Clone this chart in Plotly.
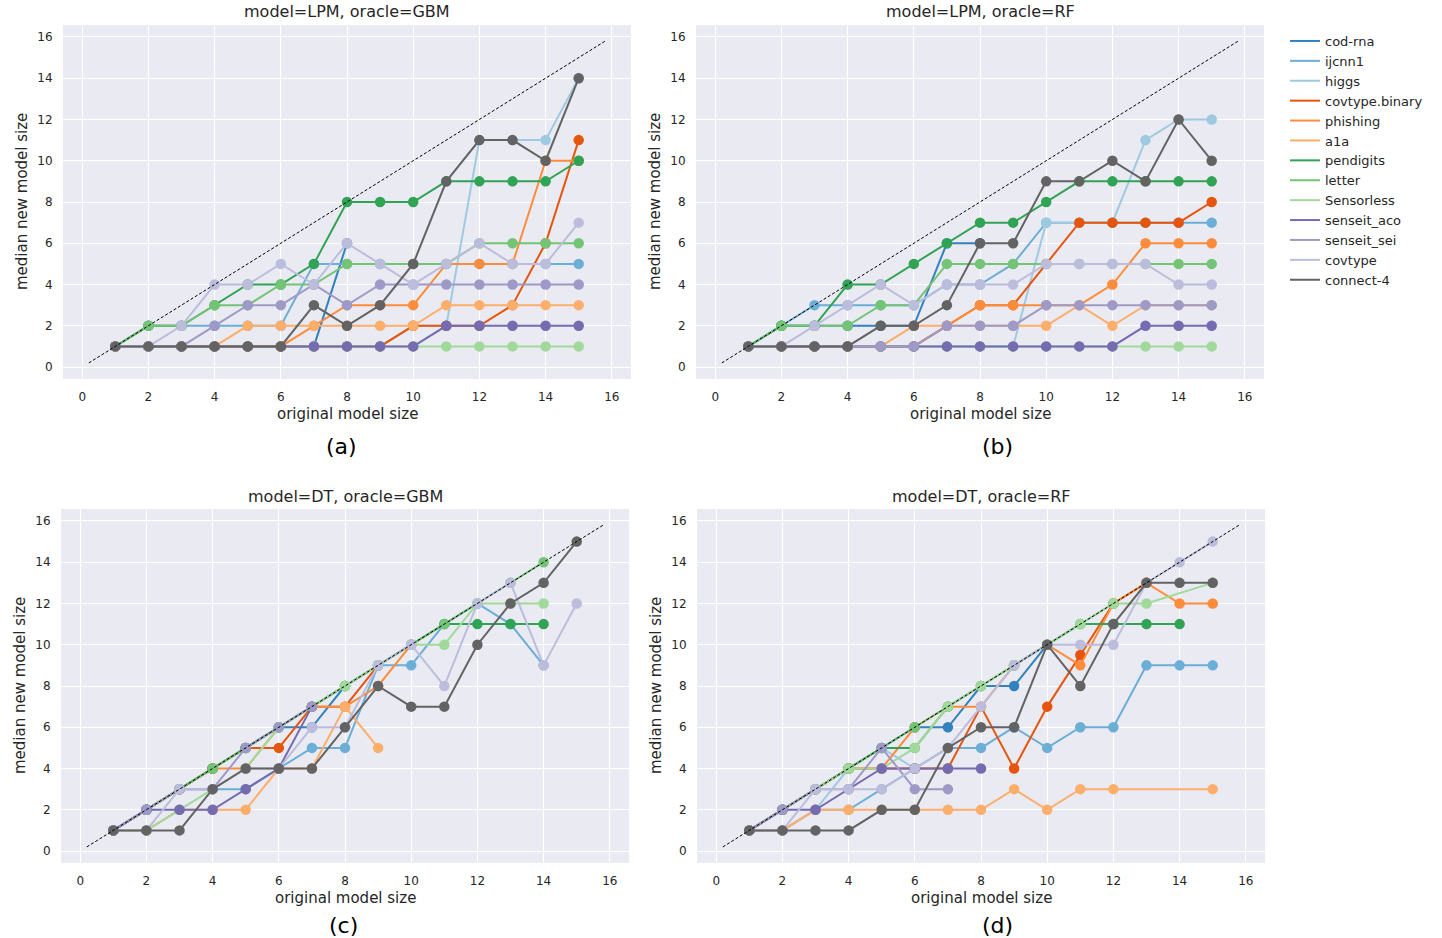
import plotly.graph_objects as go

W, H = 1442, 938

SERIES = ["cod-rna", "ijcnn1", "higgs", "covtype.binary", "phishing", "a1a",
          "pendigits", "letter", "Sensorless", "senseit_aco", "senseit_sei",
          "covtype", "connect-4"]
COLORS = ["#3182bd", "#6baed6", "#9ecae1", "#e6550d", "#fd8d3c", "#fdae6b",
          "#31a354", "#74c476", "#a1d99b", "#756bb1", "#9e9ac8", "#bcbddc", "#636363"]

TICKS = [0, 2, 4, 6, 8, 10, 12, 14, 16]

# ---- (a) model=LPM, oracle=GBM : median new model size for original size 1..n
lpm_gbm = {
    "cod-rna":        [1, 1, 1, 1, 1, 1, 1, 6],
    "ijcnn1":         [1, 2, 2, 2, 2, 2, 5, 5, 5, 5, 5, 5, 5, 5, 5],
    "higgs":          [1, 1, 1, 1, 1, 1, 1, 1, 1, 2, 2, 11, 11, 11, 14],
    "covtype.binary": [1, 1, 1, 1, 1, 1, 1, 1, 1, 2, 2, 2, 3, 6, 11],
    "phishing":       [1, 1, 1, 1, 1, 1, 2, 3, 3, 3, 5, 5, 5, 10, 10],
    "a1a":            [1, 1, 1, 1, 2, 2, 2, 2, 2, 2, 3, 3, 3, 3, 3],
    "pendigits":      [1, 2, 2, 3, 4, 4, 5, 8, 8, 8, 9, 9, 9, 9, 10],
    "letter":         [1, 2, 2, 3, 3, 4, 4, 5, 5, 5, 5, 6, 6, 6, 6],
    "Sensorless":     [1, 1, 1, 1, 1, 1, 1, 1, 1, 1, 1, 1, 1, 1, 1],
    "senseit_aco":    [1, 1, 1, 1, 1, 1, 1, 1, 1, 1, 2, 2, 2, 2, 2],
    "senseit_sei":    [1, 1, 1, 2, 3, 3, 4, 3, 4, 4, 4, 4, 4, 4, 4],
    "covtype":        [1, 1, 2, 4, 4, 5, 4, 6, 5, 4, 5, 6, 5, 5, 7],
    "connect-4":      [1, 1, 1, 1, 1, 1, 3, 2, 3, 5, 9, 11, 11, 10, 14],
}

# ---- (b) model=LPM, oracle=RF
lpm_rf = {
    "cod-rna":        [1, 2, 2, 2, 2, 2, 6, 6],
    "ijcnn1":         [1, 2, 3, 3, 3, 3, 4, 4, 5, 7, 7, 7, 7, 7, 7],
    "higgs":          [1, 1, 1, 1, 1, 1, 1, 1, 1, 7, 7, 7, 11, 12, 12],
    "covtype.binary": [1, 1, 1, 1, 1, 1, 2, 3, 3, 5, 7, 7, 7, 7, 8],
    "phishing":       [1, 1, 1, 1, 1, 1, 2, 3, 3, 3, 3, 4, 6, 6, 6],
    "a1a":            [1, 1, 1, 1, 1, 2, 2, 2, 2, 2, 3, 2, 3, 3, 3],
    "pendigits":      [1, 2, 2, 4, 4, 5, 6, 7, 7, 8, 9, 9, 9, 9, 9],
    "letter":         [1, 2, 2, 2, 3, 3, 5, 5, 5, 5, 5, 5, 5, 5, 5],
    "Sensorless":     [1, 1, 1, 1, 1, 1, 1, 1, 1, 1, 1, 1, 1, 1, 1],
    "senseit_aco":    [1, 1, 1, 1, 1, 1, 1, 1, 1, 1, 1, 1, 2, 2, 2],
    "senseit_sei":    [1, 1, 1, 1, 1, 1, 2, 2, 2, 3, 3, 3, 3, 3, 3],
    "covtype":        [1, 1, 2, 3, 4, 3, 4, 4, 4, 5, 5, 5, 5, 4, 4],
    "connect-4":      [1, 1, 1, 1, 2, 2, 3, 6, 6, 9, 9, 10, 9, 12, 10],
}

# ---- (c) model=DT, oracle=GBM
dt_gbm = {
    "cod-rna":        [1, 2, 3, 4, 5, 6, 6, 8],
    "ijcnn1":         [1, 2, 3, 3, 3, 4, 5, 5, 9, 9, 11, 12, 11, 9],
    "higgs":          [1, 2, 3, 4, 5, 6, 7, 8, 9, 10],
    "covtype.binary": [1, 2, 3, 4, 5, 5, 7, 7, 9],
    "phishing":       [1, 2, 3, 4, 4, 6, 7, 7, 8, 10],
    "a1a":            [1, 1, 2, 2, 2, 4, 4, 7, 5],
    "pendigits":      [1, 2, 3, 4, 5, 6, 7, 8, 9, 10, 11, 11, 11, 11],
    "letter":         [1, 2, 3, 4, 5, 6, 7, 8, 9, 10, 11, 12, 13, 14],
    "Sensorless":     [1, 1, 2, 3, 4, 6, 7, 8, 9, 10, 10, 12, 12, 12],
    "senseit_aco":    [1, 2, 2, 2, 3, 4, 7],
    "senseit_sei":    [1, 2, 3, 3, 5, 6, 7],
    "covtype":        [1, 1, 3, 3, 4, 4, 6, 6, 9, 10, 8, 12, 13, 9, 12],
    "connect-4":      [1, 1, 1, 3, 4, 4, 4, 6, 8, 7, 7, 10, 12, 13, 15],
}

# ---- (d) model=DT, oracle=RF
dt_rf = {
    "cod-rna":        [1, 2, 3, 4, 5, 6, 6, 8, 8, 10],
    "ijcnn1":         [1, 1, 2, 2, 3, 4, 5, 5, 6, 5, 6, 6, 9, 9, 9],
    "higgs":          [1, 1, 2, 4, 5, 4],
    "covtype.binary": [1, 2, 3, 4, 4, 4, 4, 7, 4, 7, 9.5, 12, 13],
    "phishing":       [1, 2, 3, 4, 4, 6, 7, 7, 9, 10, 9, 12, 13, 12, 12],
    "a1a":            [1, 1, 2, 2, 2, 2, 2, 2, 3, 2, 3, 3, 3],
    "pendigits":      [1, 2, 3, 4, 5, 5, 7, 8, 9, 10, 11, 11, 11, 11],
    "letter":         [1, 2, 3, 4, 5, 6, 7, 8, 9, 10, 11, 12],
    "Sensorless":     [1, 2, 3, 4, 4, 5, 7, 8, 9, 10, 11, 12, 12, 13],
    "senseit_aco":    [1, 2, 2, 3, 4, 4, 4, 4],
    "senseit_sei":    [1, 2, 3, 3, 5, 3, 3],
    "covtype":        [1, 1, 3, 3, 3, 4, 5, 7, 9, 10, 10, 10, 13, 14, 15],
    "connect-4":      [1, 1, 1, 1, 2, 2, 5, 6, 6, 10, 8, 11, 13, 13, 13],
}
# original sizes that are not simply 1..n
dt_rf_x = {
    "a1a":        [1, 2, 3, 4, 5, 6, 7, 8, 9, 10, 11, 12, 15],
    "Sensorless": [1, 2, 3, 4, 5, 6, 7, 8, 9, 10, 11, 12, 13, 15],
}

PANELS = [
    ("model=LPM, oracle=GBM", lpm_gbm, {}, "(a)"),
    ("model=LPM, oracle=RF", lpm_rf, {}, "(b)"),
    ("model=DT, oracle=GBM", dt_gbm, {}, "(c)"),
    ("model=DT, oracle=RF", dt_rf, dt_rf_x, "(d)"),
]

# plot-area boxes in pixels: left, right, top, bottom
BOXES = [(63, 631, 25, 379), (696, 1264, 25, 379), (61, 629, 509, 863), (697, 1265, 509, 863)]
LABEL_POS = [(341, 447), (997, 447), (343, 925), (997, 925)]
DIAG = [0.2, 15.8]
RANGE = [-0.58, 16.58]

def fx(p):
    return p / W

def fy(p):
    return 1 - p / H

fig = go.Figure()
layout = {}
annotations = []
TXT = "#262626"
FONT = "DejaVu Sans, Liberation Sans, sans-serif"

for i, (title, data, xdata, label) in enumerate(PANELS):
    n = i + 1
    xa = "x" if n == 1 else f"x{n}"
    ya = "y" if n == 1 else f"y{n}"
    l, r, t, b = BOXES[i]
    axis_common = dict(range=RANGE, tickvals=TICKS, showgrid=True, gridcolor="white",
                       gridwidth=1.3, zeroline=False, showline=False, ticks="outside",
                       ticklen=7, tickcolor="rgba(0,0,0,0)",
                       tickfont=dict(size=12, color=TXT, family=FONT))
    layout["xaxis" if n == 1 else f"xaxis{n}"] = dict(
        domain=[fx(l), fx(r)], anchor=ya, **axis_common)
    layout["yaxis" if n == 1 else f"yaxis{n}"] = dict(
        domain=[fy(b), fy(t)], anchor=xa, **axis_common)

    for name, color in zip(SERIES, COLORS):
        ys = data[name]
        xs = xdata.get(name, list(range(1, len(ys) + 1)))
        fig.add_trace(go.Scatter(
            x=xs, y=ys, mode="lines+markers", name=name, xaxis=xa, yaxis=ya,
            line=dict(color=color, width=2), marker=dict(color=color, size=10.5),
            showlegend=False, hoverinfo="skip"))
    fig.add_trace(go.Scatter(
        x=DIAG, y=DIAG, mode="lines", xaxis=xa, yaxis=ya, showlegend=False,
        line=dict(color="black", width=1, dash="3px,2px"), hoverinfo="skip"))

    cx = (l + r) / 2
    annotations.append(dict(text=title, x=fx(cx), y=fy(t - 13), xref="paper", yref="paper",
                            showarrow=False, font=dict(size=16, color=TXT, family=FONT),
                            xanchor="center", yanchor="middle"))
    annotations.append(dict(text="original model size", x=fx(cx), y=fy(b + 35),
                            xref="paper", yref="paper", showarrow=False,
                            font=dict(size=15, color=TXT, family=FONT),
                            xanchor="center", yanchor="middle"))
    annotations.append(dict(text="median new model size", x=fx(l - 41), y=fy((t + b) / 2),
                            xref="paper", yref="paper", showarrow=False, textangle=-90,
                            font=dict(size=15, color=TXT, family=FONT),
                            xanchor="center", yanchor="middle"))
    lx, ly = LABEL_POS[i]
    annotations.append(dict(text=label, x=fx(lx), y=fy(ly), xref="paper", yref="paper",
                            showarrow=False, font=dict(size=22, color="black", family=FONT),
                            xanchor="center", yanchor="middle"))

# legend entries (line-only)
for name, color in zip(SERIES, COLORS):
    fig.add_trace(go.Scatter(x=[None], y=[None], mode="lines", name=name,
                             line=dict(color=color, width=2), showlegend=True))

fig.update_layout(
    width=W, height=H, margin=dict(l=0, r=0, t=0, b=0),
    paper_bgcolor="white", plot_bgcolor="#EAEAF2",
    font=dict(family=FONT, color=TXT),
    legend=dict(x=fx(1285), y=fy(26), xanchor="left", yanchor="top",
                bgcolor="rgba(0,0,0,0)", font=dict(size=13, color=TXT, family=FONT),
                itemwidth=30, tracegroupgap=0),
    annotations=annotations,
    **layout,
)

fig.write_html("out.html")
